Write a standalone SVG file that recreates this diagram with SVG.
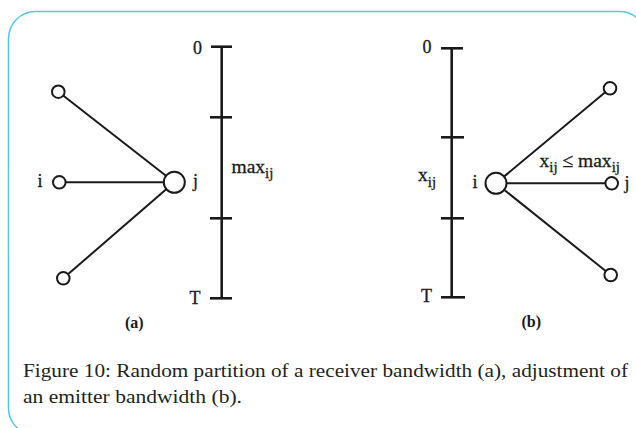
<svg xmlns="http://www.w3.org/2000/svg" width="636" height="428" viewBox="0 0 636 428">
<style>
.frame{fill:none;stroke:#55c6ee;stroke-width:1.5}
.ln{stroke:#1a1a1a;stroke-width:2;fill:none}
.ax{stroke:#1a1a1a;stroke-width:2.6;fill:none}
.nd{fill:#fff;stroke:#1a1a1a;stroke-width:2}
.lb{font-family:"Liberation Serif",serif;font-size:18px;fill:#1a1a1a;stroke:#1a1a1a;stroke-width:0.3}
.mx{font-size:19.5px}
.sb{font-size:15px}
.pl{font-family:"Liberation Serif",serif;font-size:16px;font-weight:bold;fill:#1a1a1a}
.cap{font-family:"Liberation Serif",serif;font-size:18.5px;fill:#231f20}
</style>
<rect class="frame" x="8.5" y="11.5" width="638" height="423.5" rx="27" ry="27"/>
<g id="connectors">
<line class="ln" x1="58.3" y1="91.7" x2="174.3" y2="182.3"/>
<line class="ln" x1="59.3" y1="182.3" x2="174.3" y2="182.3"/>
<line class="ln" x1="63.3" y1="278.3" x2="174.3" y2="182.3"/>
<line class="ln" x1="496" y1="183.3" x2="610" y2="88.3"/>
<line class="ln" x1="496" y1="183.3" x2="611.7" y2="183.3"/>
<line class="ln" x1="496" y1="183.3" x2="610.7" y2="275"/>
</g>
<g id="axis-a">
<line class="ax" x1="221.7" y1="46.7" x2="221.7" y2="298.3"/>
<line class="ax" x1="211" y1="46.7" x2="232" y2="46.7"/>
<line class="ax" x1="210" y1="117.3" x2="232" y2="117.3"/>
<line class="ax" x1="210" y1="218.3" x2="232" y2="218.3"/>
<line class="ax" x1="210" y1="298.3" x2="232" y2="298.3"/>
<text class="lb" x="193" y="53.5">0</text>
<text class="lb" x="189.5" y="303.5">T</text>
<text class="lb mx" x="231.5" y="173">max<tspan class="sb" dy="5">ij</tspan></text>
</g>
<g id="axis-b">
<line class="ax" x1="451.7" y1="48.3" x2="451.7" y2="297.3"/>
<line class="ax" x1="441" y1="48.3" x2="463" y2="48.3"/>
<line class="ax" x1="441" y1="137.3" x2="464" y2="137.3"/>
<line class="ax" x1="441" y1="218.3" x2="464" y2="218.3"/>
<line class="ax" x1="441" y1="297.3" x2="465" y2="297.3"/>
<text class="lb" x="422.5" y="52.5">0</text>
<text class="lb" x="421" y="302">T</text>
<text class="lb mx" x="418" y="181">x<tspan class="sb" dy="6">ij</tspan></text>
</g>
<g id="node-a-top"><circle class="nd" cx="58.3" cy="91.7" r="6.3"/></g>
<g id="node-a-i"><circle class="nd" cx="59.3" cy="182.3" r="6.3"/><text class="lb" x="37.5" y="187">i</text></g>
<g id="node-a-bottom"><circle class="nd" cx="63.3" cy="278.3" r="6.3"/></g>
<g id="node-a-j"><circle class="nd" cx="174.3" cy="182.3" r="10.5"/><text class="lb" x="193" y="187">j</text></g>
<g id="node-b-i"><circle class="nd" cx="496" cy="183.3" r="10.5"/><text class="lb" x="472.5" y="188">i</text></g>
<g id="node-b-top"><circle class="nd" cx="610" cy="88.3" r="6.3"/></g>
<g id="node-b-j"><circle class="nd" cx="611.7" cy="183.3" r="6.3"/><text class="lb" x="624.5" y="189">j</text></g>
<g id="node-b-bottom"><circle class="nd" cx="610.7" cy="275" r="6.3"/></g>
<text class="lb mx" x="539.5" y="167">x<tspan class="sb" dy="5">ij</tspan><tspan dy="-5"> ≤ max</tspan><tspan class="sb" dy="5">ij</tspan></text>
<text class="pl" x="125" y="328">(a)</text>
<text class="pl" x="521.5" y="327">(b)</text>
<text class="cap" x="23" y="377" textLength="605" lengthAdjust="spacingAndGlyphs">Figure 10: Random partition of a receiver bandwidth (a), adjustment of</text>
<text class="cap" x="23" y="402.7" textLength="219" lengthAdjust="spacingAndGlyphs">an emitter bandwidth (b).</text>
</svg>
